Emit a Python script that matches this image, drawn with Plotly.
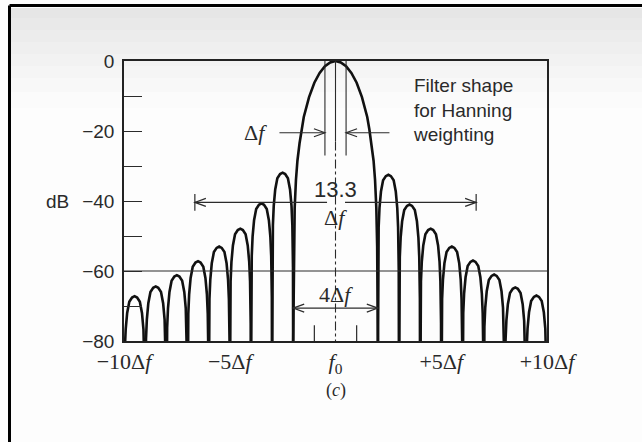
import plotly.graph_objects as go

# ---------------- data ----------------
# Main lobe of the Hanning-weighted filter, right half: offset from f0 (in Δf) and level (dB)
main_offsets = [0.0, 0.25, 0.5, 0.75, 1.0, 1.25, 1.5, 1.6, 1.7, 1.8, 1.87, 1.93, 1.97, 2.0]
main_db = [0.0, -0.4, -1.5, -3.4, -6.2, -10.3, -16.0, -19.5, -23.5, -28.5, -34.0, -42.0, -53.0, -80.0]

# Side lobes: centre (Δf) and peak level (dB)
side_centres = [-9.5, -8.5, -7.5, -6.5, -5.5, -4.5, -3.5, -2.5,
                2.5, 3.5, 4.5, 5.5, 6.5, 7.5, 8.5, 9.5]
side_peaks_db = [-67.2, -64.4, -61.2, -57.2, -53.0, -47.9, -40.7, -31.9,
                 -32.5, -41.0, -47.9, -53.0, -57.0, -61.0, -64.7, -67.0]

# Outline of one side-lobe arch: offset from its centre (Δf) and drop below its peak (dB)
arch_offsets = [-0.5, -0.49, -0.46, -0.42, -0.35, -0.25, -0.12, 0.0,
                0.12, 0.25, 0.35, 0.42, 0.46, 0.49, 0.5]
arch_drop_db = [60, 27, 15, 9.5, 4.8, 1.6, 0.4, 0.0,
                0.4, 1.6, 4.8, 9.5, 15, 27, 60]

# Axis ticks
x_tickvals = [-10, -5, 0, 5, 10]
x_ticktext = ["\u221210\u0394<i>f</i>", "\u22125\u0394<i>f</i>", "<i>f</i><sub>0</sub>",
              "+5\u0394<i>f</i>", "+10\u0394<i>f</i>"]
y_tickvals = [0, -10, -20, -30, -40, -50, -60, -70, -80]
y_ticktext = ["0", "", "\u221220", "", "\u221240", "", "\u221260", "", "\u221280"]

# Dimension annotations (in Δf)
bin_width = 1.0          # Δf between the two inner markers
bw_40db = 13.3           # width quoted at the -40 dB level
main_lobe_width = 4.0    # null-to-null width of the main lobe

# ---------------- geometry helpers ----------------
W, H = 642, 442
L, R, T, B = 124, 95, 61, 101
PX_X = (W - L - R) / 20.0     # px per Δf
PX_Y = (H - T - B) / 80.0     # px per dB


def px_to_paper(px, py):
    return (px - L) / (W - L - R), (H - B - py) / (H - T - B)


# ---------------- curve ----------------
xs, ys = [], []
xs += [-o for o in reversed(main_offsets)] + main_offsets[1:]
ys += list(reversed(main_db)) + main_db[1:]
xs.append(None)
ys.append(None)
for c, p in zip(side_centres, side_peaks_db):
    for o, d in zip(arch_offsets, arch_drop_db):
        xs.append(c + o)
        ys.append(p - d)
    xs.append(None)
    ys.append(None)

fig = go.Figure()
fig.add_trace(go.Scatter(x=xs, y=ys, mode="lines", connectgaps=False,
                         line=dict(color="#111111", width=2.6), hoverinfo="skip",
                         showlegend=False))

LINE = "#2b2b2b"
shapes = []


def seg(x0, y0, x1, y1, width=1.2, dash="solid", color=LINE):
    shapes.append(dict(type="line", xref="x", yref="y", x0=x0, y0=y0, x1=x1, y1=y1,
                       line=dict(color=color, width=width, dash=dash), layer="above"))


def head(x, y, direction, length_px=11, spread_px=4):
    dx = length_px / PX_X * direction
    dy = spread_px / PX_Y
    shapes.append(dict(type="path", xref="x", yref="y",
                       path=f"M {x - dx},{y + dy} L {x},{y} L {x - dx},{y - dy}",
                       line=dict(color=LINE, width=1.2), layer="above"))


# -60 dB reference line
seg(-10, -60, 10, -60, width=1.1)

# markers one bin apart around f0, and the centre line
seg(-bin_width / 2, 0, -bin_width / 2, -27, width=1.1)
seg(bin_width / 2, 0, bin_width / 2, -27, width=1.1)
seg(0, 0, 0, -23, width=1.1)
seg(0, -23, 0, -80, width=1.1, dash="dashdot")

# Δf arrows at -20.5 dB
seg(-2.65, -20.5, -bin_width / 2, -20.5)
head(-bin_width / 2, -20.5, +1)
seg(2.55, -20.5, bin_width / 2, -20.5)
head(bin_width / 2, -20.5, -1)

# 13.3 Δf dimension at -40 dB
hw = bw_40db / 2
seg(-hw, -40.4, -0.4, -40.4)
seg(0.45, -40.4, hw, -40.4)
head(-hw, -40.4, -1)
head(hw, -40.4, +1)
seg(-hw, -38.0, -hw, -42.8)
seg(hw, -38.0, hw, -42.8)

# 4 Δf dimension near the floor
hm = main_lobe_width / 2
seg(-hm, -70.6, hm, -70.6)
head(-hm, -70.6, -1)
head(hm, -70.6, +1)
seg(-1, -75.5, -1, -80)
seg(1, -75.5, 1, -80)

# soft grey haze across the top of the page, and the page border
haze = [(8, 18, "#e6e6e6"), (18, 30, "#e9e9e9"), (30, 42, "#ececec"), (42, 54, "#efefef"),
        (54, 66, "#f2f2f2"), (66, 78, "#f5f5f5"), (78, 92, "#f8f8f8"), (92, 108, "#fbfbfb")]
for (top, bot, col) in haze:
    x0p, y0p = px_to_paper(11, top)
    x1p, y1p = px_to_paper(W + 2, bot)
    shapes.append(dict(type="rect", xref="paper", yref="paper", x0=x0p, x1=x1p,
                       y0=y1p, y1=y0p, fillcolor=col, line=dict(width=0), layer="below"))

xa, ya = px_to_paper(9.5, 5.5)
xb, yb = px_to_paper(W + 2, H + 2)
shapes.append(dict(type="line", xref="paper", yref="paper", x0=xa, y0=ya, x1=xb, y1=ya,
                   line=dict(color="#000000", width=3)))
shapes.append(dict(type="line", xref="paper", yref="paper", x0=xa, y0=ya, x1=xa, y1=yb,
                   line=dict(color="#000000", width=3)))

SERIF = "Liberation Serif, Times New Roman, serif"
SANS = "Liberation Sans, Arial, sans-serif"
TXT = "#2a2a2a"

annotations = [
    dict(x=-3.8, y=-20.5, text="\u0394<i>f</i>", showarrow=False,
         font=dict(family=SERIF, size=22, color=TXT)),
    dict(x=0, y=-36.6, text=f"{bw_40db}", showarrow=False,
         font=dict(family=SANS, size=22, color=TXT)),
    dict(x=0, y=-44.8, text="\u0394<i>f</i>", showarrow=False,
         font=dict(family=SERIF, size=22, color=TXT)),
    dict(x=0, y=-66.6, text=f"{main_lobe_width:.0f}\u0394<i>f</i>", showarrow=False,
         font=dict(family=SERIF, size=22, color=TXT)),
    dict(x=3.55, y=-14.0, text="Filter shape<br>for Hanning<br>weighting", showarrow=False,
         xanchor="left", align="left",
         font=dict(family=SANS, size=19, color=TXT)),
]
px, py = px_to_paper(71, 201)
annotations.append(dict(x=px, y=py, xref="paper", yref="paper", text="dB", showarrow=False,
                        xanchor="right", yanchor="middle",
                        font=dict(family=SANS, size=19, color=TXT)))
px, py = px_to_paper(336, 390)
annotations.append(dict(x=px, y=py, xref="paper", yref="paper", text="(<i>c</i>)",
                        showarrow=False, xanchor="center", yanchor="middle",
                        font=dict(family=SERIF, size=18, color=TXT)))

fig.update_layout(
    width=W, height=H,
    margin=dict(l=L, r=R, t=T, b=B, pad=0),
    paper_bgcolor="#fdfdfd", plot_bgcolor="rgba(0,0,0,0)",
    shapes=shapes, annotations=annotations,
    xaxis=dict(range=[-10, 10], showgrid=False, zeroline=False, showline=True, mirror=True,
               linecolor="#222222", linewidth=1.6, ticks="",
               tickvals=x_tickvals, ticktext=x_ticktext, ticklabelstandoff=0,
               tickfont=dict(family=SERIF, size=22, color=TXT)),
    yaxis=dict(range=[-80, 0], showgrid=False, zeroline=False, showline=True, mirror=True,
               linecolor="#222222", linewidth=1.6, ticks="inside", ticklen=18,
               tickwidth=1.2, tickcolor=LINE,
               tickvals=y_tickvals, ticktext=y_ticktext, ticklabelstandoff=4,
               tickfont=dict(family=SANS, size=19, color=TXT)),
)

fig.write_html("out.html")
